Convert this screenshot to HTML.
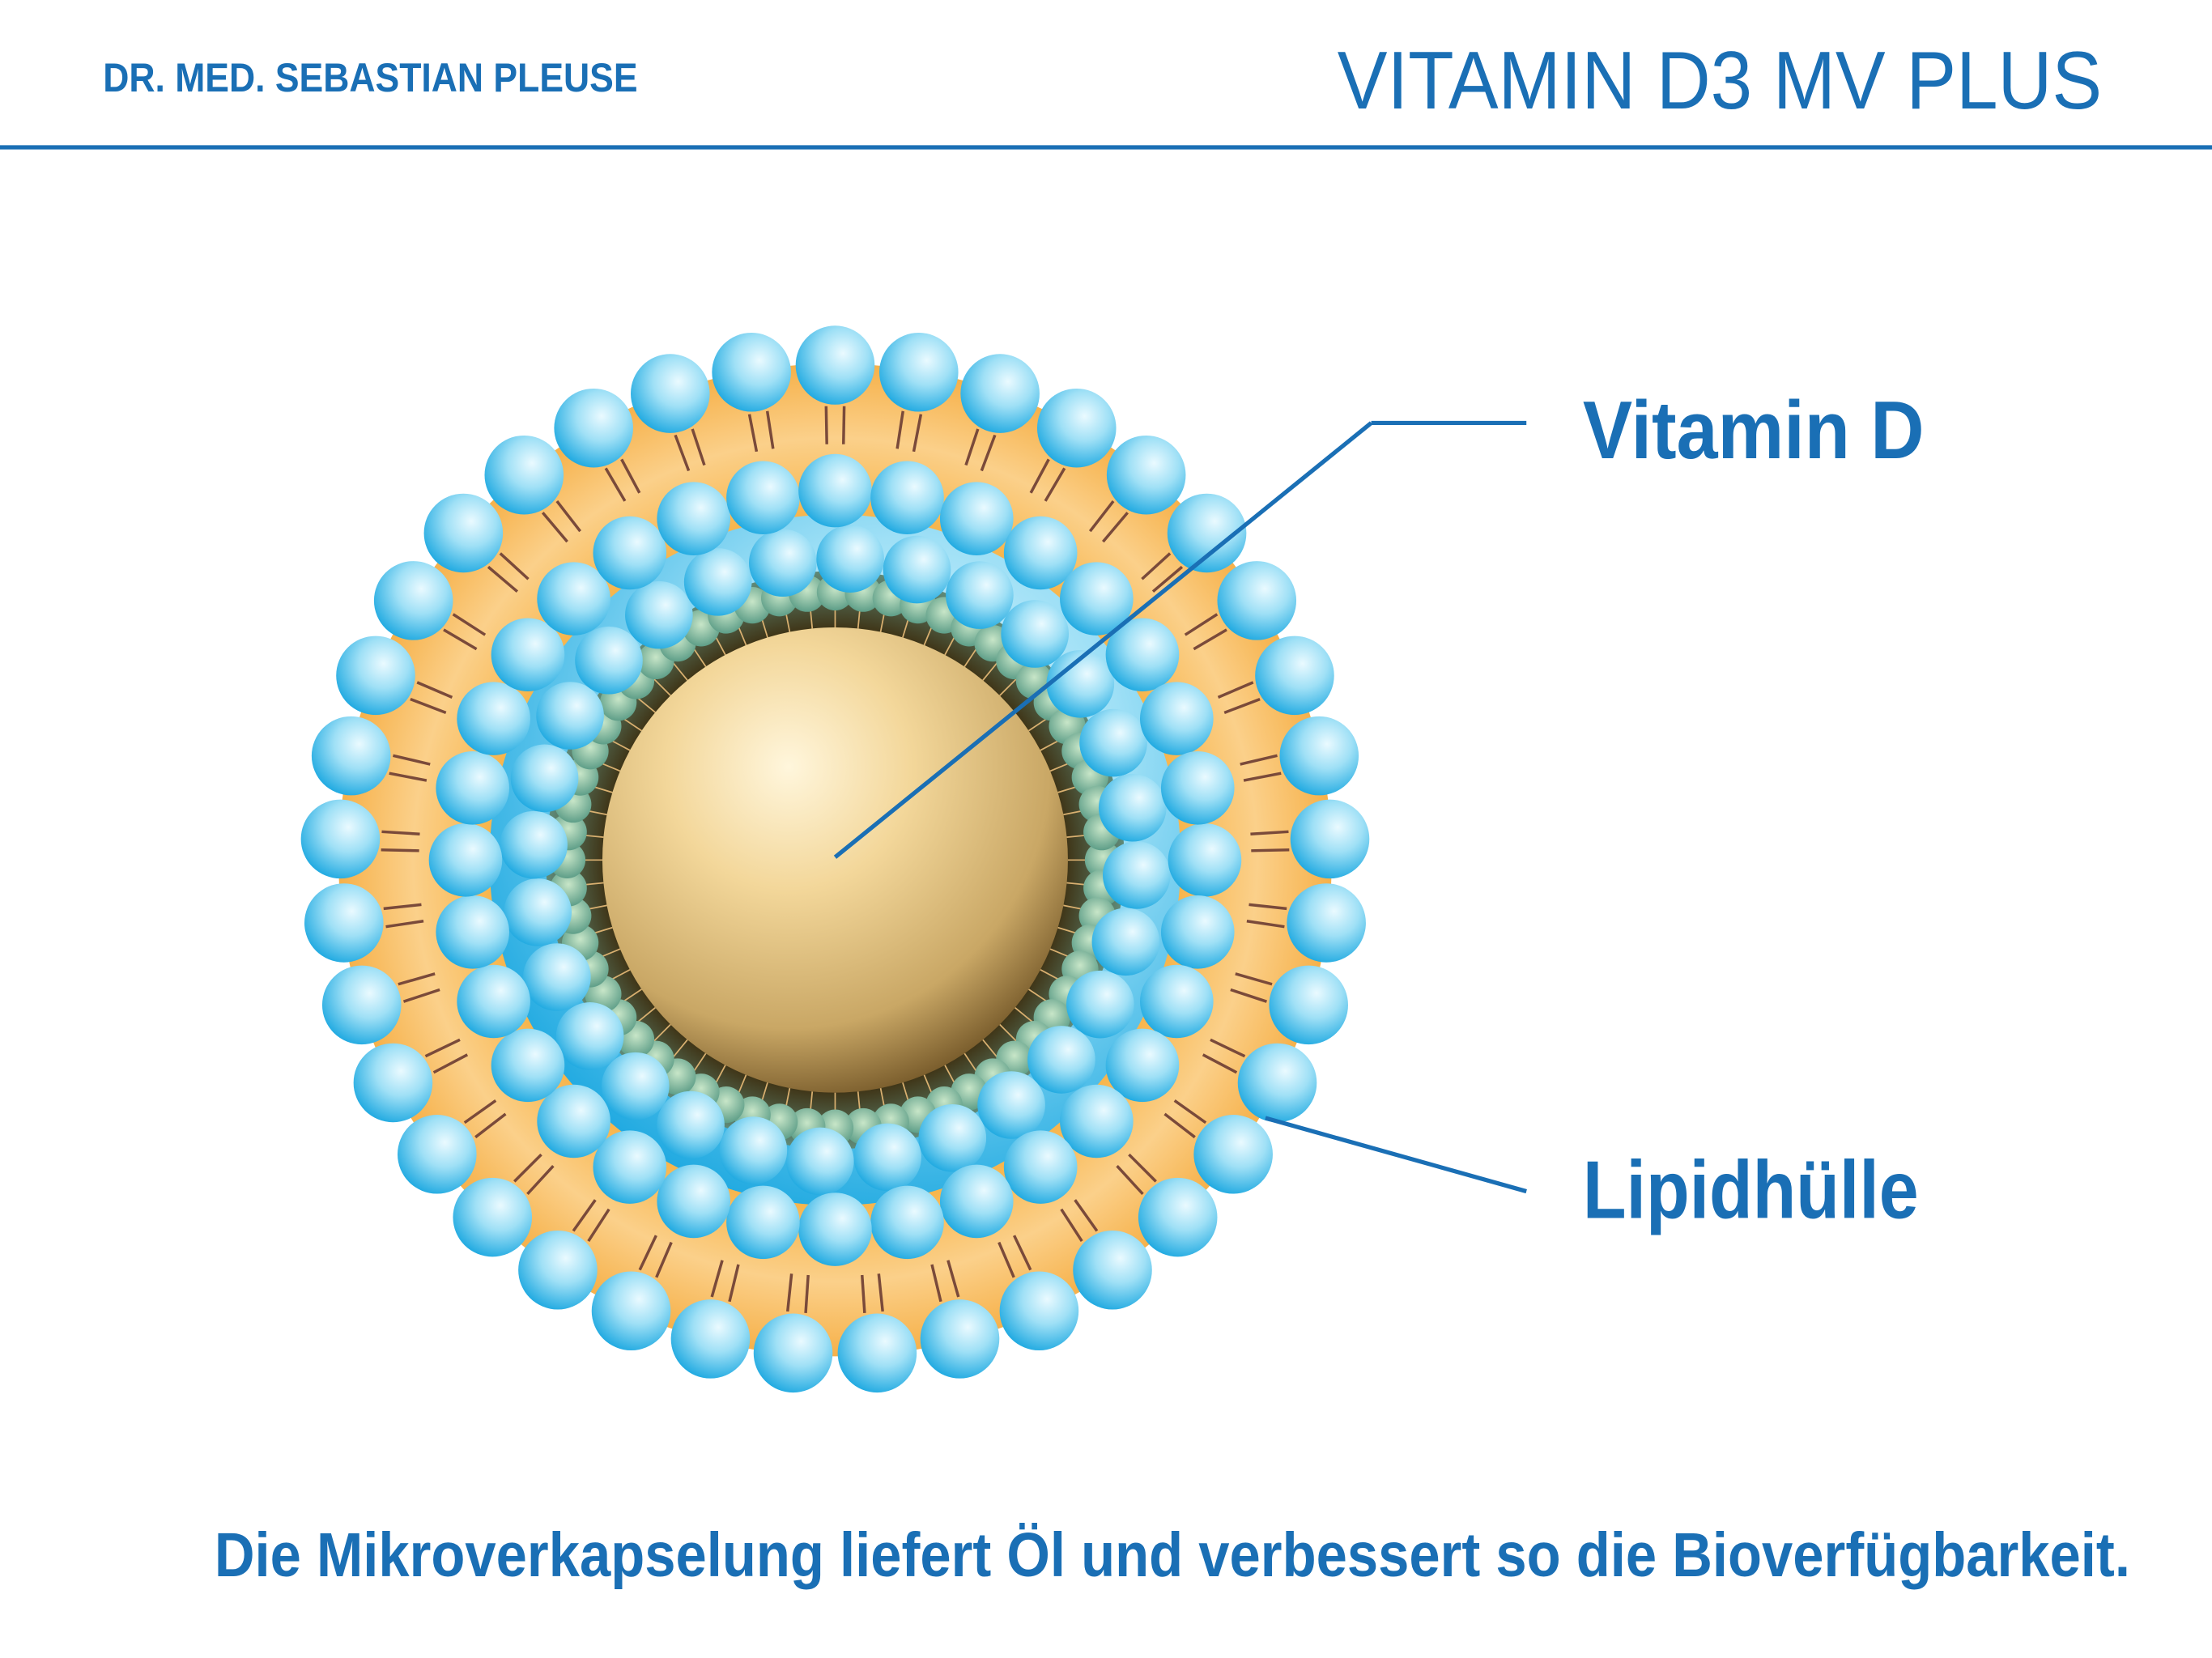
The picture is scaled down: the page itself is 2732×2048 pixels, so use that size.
<!DOCTYPE html>
<html><head><meta charset="utf-8"><style>
html,body{margin:0;padding:0;background:#fff;}
svg{display:block;}
text{font-family:"Liberation Sans",sans-serif;}
</style></head><body>
<svg id="s" width="2732" height="2048" viewBox="0 0 1568 1176" preserveAspectRatio="none" xmlns="http://www.w3.org/2000/svg">
<defs>
<radialGradient id="ball" cx="0.6" cy="0.35" r="0.7">
<stop offset="0" stop-color="#eafaff"/><stop offset="0.45" stop-color="#9fe0f6"/><stop offset="1" stop-color="#1aa7e0"/>
</radialGradient>
<radialGradient id="gball" cx="0.5" cy="0.4" r="0.6">
<stop offset="0" stop-color="#c8e6c8"/><stop offset="1" stop-color="#5e9e88"/>
</radialGradient>
<radialGradient id="orange" cx="0.5" cy="0.5" r="0.5">
<stop offset="0.7" stop-color="#f7b64e"/><stop offset="0.85" stop-color="#fbd08a"/><stop offset="1" stop-color="#f6b14a"/>
</radialGradient>
<radialGradient id="core" cx="0.4" cy="0.3" r="0.75">
<stop offset="0" stop-color="#fff6dc"/><stop offset="0.35" stop-color="#f3d79a"/><stop offset="0.75" stop-color="#c9a765"/><stop offset="1" stop-color="#6e5224"/>
</radialGradient>
<radialGradient id="dark" cx="0.5" cy="0.5" r="0.5">
<stop offset="0.8" stop-color="#3f3416"/><stop offset="1" stop-color="#5f8a78"/>
</radialGradient>
</defs>
<text x="73" y="65" font-size="29" fill="#1a6fb5" font-weight="bold" textLength="379" lengthAdjust="spacingAndGlyphs">DR. MED. SEBASTIAN PLEUSE</text>
<text x="948" y="77" font-size="58" fill="#1a6fb5" textLength="542" lengthAdjust="spacingAndGlyphs" style="font-weight:100">VITAMIN D3 MV PLUS</text>
<rect x="0" y="103" width="1568" height="3" fill="#1a6fb5"/>
<circle cx="592" cy="610" r="352" fill="url(#orange)"/>
<g id="g"></g>
<line x1="592" y1="608" x2="972" y2="300" stroke="#1a6fb5" stroke-width="3"/>
<line x1="972" y1="300" x2="1082" y2="300" stroke="#1a6fb5" stroke-width="3"/>
<line x1="897" y1="793" x2="1082" y2="845" stroke="#1a6fb5" stroke-width="3"/>
<text x="1122" y="325" font-size="58" fill="#1a6fb5" font-weight="bold" textLength="242" lengthAdjust="spacingAndGlyphs">Vitamin D</text>
<text x="1122" y="864" font-size="58" fill="#1a6fb5" font-weight="bold" textLength="238" lengthAdjust="spacingAndGlyphs">Lipidhülle</text>
<text x="152" y="1118" font-size="44" fill="#1a6fb5" font-weight="bold" textLength="1358" lengthAdjust="spacingAndGlyphs">Die Mikroverkapselung liefert Öl und verbessert so die Bioverfügbarkeit.</text>
</svg>
<script>
var g=document.getElementById('g'),ns='http://www.w3.org/2000/svg',cx=592,cy=610,h='';
function c(x,y,r,f){h+='<circle cx="'+x.toFixed(1)+'" cy="'+y.toFixed(1)+'" r="'+r+'" fill="'+f+'"/>';}
function ln(a,r1,r2,col,w){h+='<line x1="'+(cx+r1*Math.cos(a)).toFixed(1)+'" y1="'+(cy+r1*Math.sin(a)).toFixed(1)+'" x2="'+(cx+r2*Math.cos(a)).toFixed(1)+'" y2="'+(cy+r2*Math.sin(a)).toFixed(1)+'" stroke="'+col+'" stroke-width="'+w+'"/>';}
var i,a,n;
n=37;for(i=0;i<n;i++){a=i*2*Math.PI/n-Math.PI/2;ln(a+0.02,295,322,'#7a4a3a',2);ln(a-0.02,295,322,'#7a4a3a',2);}
c(cx,cy,245,'url(#ball)');
c(cx,cy,205,'url(#dark)');
n=64;for(i=0;i<n;i++){a=i*2*Math.PI/n;ln(a,165,200,'#d9b070',1);}
n=60;for(i=0;i<n;i++){a=i*2*Math.PI/n;c(cx+190*Math.cos(a),cy+190*Math.sin(a),13,'url(#gball)');}
n=28;for(i=0;i<n;i++){a=i*2*Math.PI/n+0.05;c(cx+214*Math.cos(a),cy+214*Math.sin(a),24,'url(#ball)');}
n=32;for(i=0;i<n;i++){a=i*2*Math.PI/n;c(cx+262*Math.cos(a),cy+262*Math.sin(a),26,'url(#ball)');}
n=37;for(i=0;i<n;i++){a=i*2*Math.PI/n-Math.PI/2;c(cx+351*Math.cos(a),cy+351*Math.sin(a),28,'url(#ball)');}
c(cx,cy,165,'url(#core)');
g.innerHTML=h;
</script>
</body></html>
